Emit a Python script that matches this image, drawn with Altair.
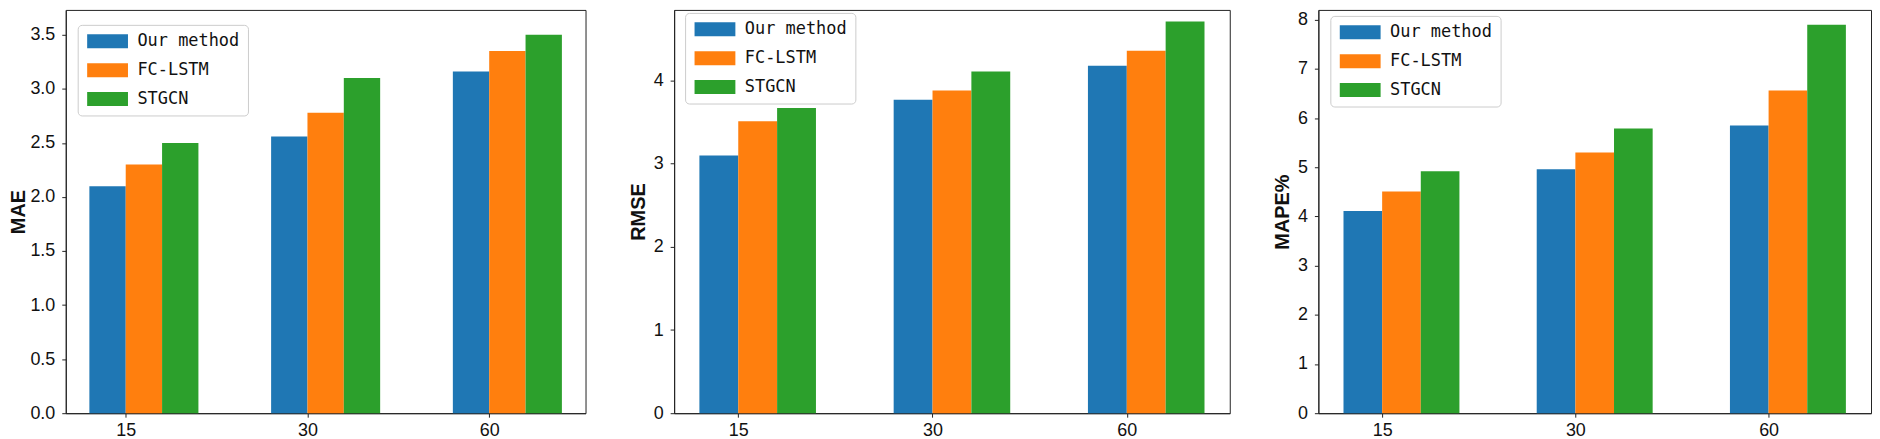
import json
import altair as alt
import pandas as pd

categories = ["15", "30", "60"]
series = ["Our method", "FC-LSTM", "STGCN"]
colors = ["#1f77b4", "#ff7f0e", "#2ca02c"]

mae_our = [2.10, 2.56, 3.16]
mae_fc = [2.30, 2.78, 3.35]
mae_st = [2.50, 3.10, 3.50]

rmse_our = [3.10, 3.77, 4.18]
rmse_fc = [3.51, 3.88, 4.36]
rmse_st = [3.67, 4.11, 4.71]

mape_our = [4.11, 4.96, 5.85]
mape_fc = [4.51, 5.30, 6.56]
mape_st = [4.92, 5.79, 7.90]

mae_ticks = [0, 0.5, 1.0, 1.5, 2.0, 2.5, 3.0, 3.5]
rmse_ticks = [0, 1, 2, 3, 4]
mape_ticks = [0, 1, 2, 3, 4, 5, 6, 7, 8]

BAR_W = 0.2
MONO = "DejaVu Sans Mono"
SANS = "Liberation Sans"
# legend swatch: 41x14 px rectangle drawn from the symbol's left edge
SWATCH = "M-1,-1H4.857V1H-1Z"


def frame(vals):
    rows = []
    for k, (name, arr) in enumerate(zip(series, vals)):
        for i, v in enumerate(arr):
            left = i + (k - 1) * BAR_W
            rows.append({"series": name, "cat": categories[i], "x0": left,
                         "x1": left + BAR_W, "value": v})
    return pd.DataFrame(rows)


def panel(vals, ytitle, ticks, fmt, width, height, ymax, lx, ly, tpad):
    df = frame(vals)
    return alt.Chart(df).mark_bar(strokeWidth=0).encode(
        x=alt.X("x0:Q",
                scale=alt.Scale(domain=[-0.33, 2.53], nice=False, zero=False),
                axis=alt.Axis(values=[0, 1, 2],
                              labelExpr=json.dumps(categories) + "[datum.value]",
                              title=None, grid=False, labelPadding=4,
                              labelFont=SANS, labelFontSize=18)),
        x2="x1:Q",
        y=alt.Y("value:Q",
                scale=alt.Scale(domain=[0, ymax], nice=False),
                axis=alt.Axis(values=ticks, format=fmt, title=ytitle, grid=False,
                              labelFont=SANS, labelFontSize=18, labelPadding=7,
                              titleFont=SANS, titleFontSize=20,
                              titleFontWeight="bold", titleColor="#111",
                              titlePadding=tpad)),
        y2=alt.datum(0),
        color=alt.Color("series:N",
                        scale=alt.Scale(domain=series, range=colors),
                        legend=alt.Legend(orient="none", legendX=lx, legendY=ly,
                                          title=None)),
    ).properties(width=width, height=height)


p1 = panel([mae_our, mae_fc, mae_st], "MAE", mae_ticks, ".1f", 522, 405, 3.73, 12, 15, 1)
p2 = panel([rmse_our, rmse_fc, rmse_st], "RMSE", rmse_ticks, "d", 558, 405, 4.85, 11, 3, 5)
p3 = panel([mape_our, mape_fc, mape_st], "MAPE%", mape_ticks, "d", 555, 405, 8.2, 12, 6, 5)

chart = alt.hconcat(p1, p2, p3, spacing=89, bounds="flush").resolve_scale(
    color="independent").resolve_legend(color="independent").properties(
    padding=0
).configure_view(stroke="#222", strokeWidth=1).configure_axis(
    domainColor="#222", tickColor="#222", tickSize=4, tickWidth=1,
    labelColor="#111",
).configure_legend(
    symbolType=SWATCH, symbolSize=196, symbolStrokeWidth=0,
    labelFont=MONO, labelFontSize=17, labelColor="#111", labelOffset=35,
    padding=8, rowPadding=11, strokeColor="#cccccc", fillColor="white",
    cornerRadius=4,
)

chart.save("out.html", embed_options={"renderer": "svg", "actions": False})
